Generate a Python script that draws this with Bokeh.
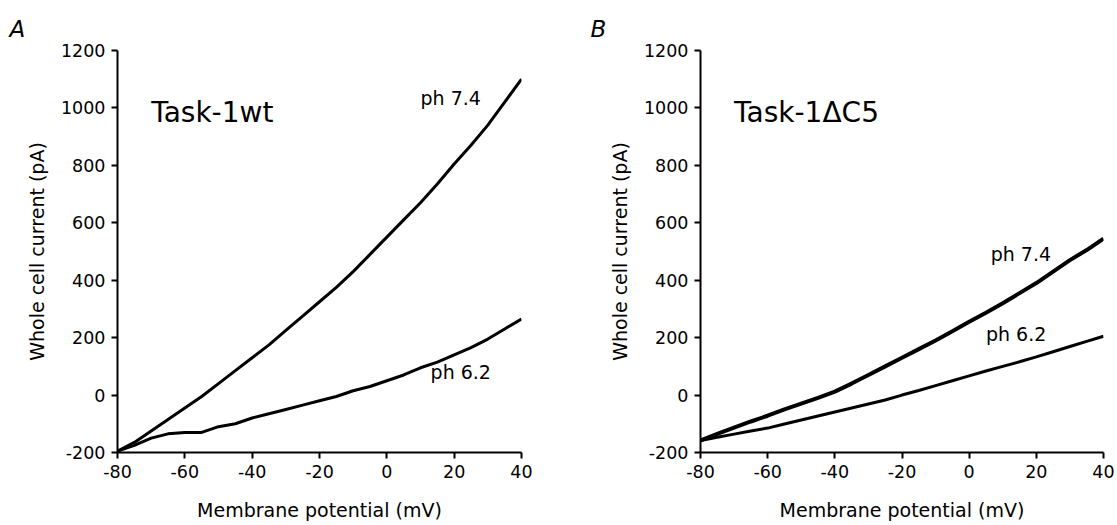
from bokeh.plotting import figure
from bokeh.layouts import row
from bokeh.models import Range1d, Label, FixedTicker
from bokeh.embed import file_html
from bokeh.resources import INLINE

# ---- data ----
voltage = [-80, -75, -70, -65, -60, -55, -50, -45, -40, -35, -30, -25, -20,
           -15, -10, -5, 0, 5, 10, 15, 20, 25, 30, 35, 40]

wt_ph74 = [-195, -165, -125, -85, -45, -5, 40, 85, 130, 175, 225, 275, 325,
           375, 430, 490, 550, 610, 670, 735, 805, 870, 940, 1020, 1100]
wt_ph62 = [-195, -175, -150, -135, -130, -130, -110, -100, -80, -65, -50, -35, -20,
           -5, 15, 30, 50, 70, 95, 115, 140, 165, 195, 230, 265]

dc5_ph74 = [-158, -135, -113, -92, -72, -50, -30, -10, 12, 40, 70, 100, 130,
            160, 190, 222, 255, 287, 320, 355, 390, 430, 470, 505, 545]
dc5_ph62 = [-158, -147, -136, -125, -115, -101, -87, -73, -59, -45, -31, -17, 0,
            16, 33, 50, 67, 84, 100, 116, 133, 151, 169, 187, 205]

x_ticks = [-80, -60, -40, -20, 0, 20, 40]
y_ticks = [-200, 0, 200, 400, 600, 800, 1000, 1200]

panel_letters = ["A", "B"]
panel_titles = ["Task-1wt", "Task-1\u0394C5"]
x_label = "Membrane potential (mV)"
y_label = "Whole cell current (pA)"

FONT = "DejaVu Sans"


def tick_text(v):
    return str(v)  # plain hyphen-minus, as in the reference


def make_panel(width, border_left, border_right, letter, letter_offset, title,
               y74, y62, lab74, lab62, lw74):
    p = figure(width=width, height=525, output_backend="svg",
               toolbar_location=None,
               x_range=Range1d(-80, 40), y_range=Range1d(-200, 1200),
               min_border_left=border_left, min_border_right=border_right,
               min_border_top=50, min_border_bottom=73)
    p.outline_line_color = None
    p.grid.visible = False
    p.background_fill_color = "white"
    p.border_fill_color = "white"

    # panel letter as the figure title, pushed to the far left
    p.title.text = letter
    p.title.align = "left"
    p.title.offset = letter_offset
    p.title.text_font = FONT
    p.title.text_font_size = "23px"
    p.title.text_font_style = "italic"
    p.title.text_color = "black"
    p.title.standoff = 17

    for ax, ticks, lab in ((p.xaxis[0], x_ticks, x_label),
                           (p.yaxis[0], y_ticks, y_label)):
        ax.ticker = FixedTicker(ticks=ticks)
        ax.major_label_overrides = {t: tick_text(t) for t in ticks}
        ax.axis_line_width = 2
        ax.axis_line_color = "black"
        ax.major_tick_line_width = 2
        ax.major_tick_line_color = "black"
        ax.major_tick_out = 6
        ax.major_tick_in = 0
        ax.minor_tick_line_color = None
        ax.major_label_text_font = FONT
        ax.major_label_text_font_size = "17.5px"
        ax.major_label_text_color = "black"
        ax.major_label_standoff = 6
        ax.axis_label = lab
        ax.axis_label_text_font = FONT
        ax.axis_label_text_font_size = "19px"
        ax.axis_label_text_font_style = "normal"
        ax.axis_label_text_color = "black"
    p.xaxis[0].axis_label_standoff = 18
    p.yaxis[0].axis_label_standoff = 10

    p.line(voltage, y74, line_color="black", line_width=lw74)
    p.line(voltage, y62, line_color="black", line_width=3)

    p.add_layout(Label(x=-70, y=985, text=title, text_font=FONT,
                       text_font_size="28px", text_color="black",
                       text_baseline="alphabetic"))
    p.add_layout(Label(x=lab74[0], y=lab74[1], text="ph 7.4", text_font=FONT,
                       text_font_size="19px", text_color="black",
                       text_baseline="alphabetic"))
    p.add_layout(Label(x=lab62[0], y=lab62[1], text="ph 6.2", text_font=FONT,
                       text_font_size="19px", text_color="black",
                       text_baseline="alphabetic"))
    return p


left = make_panel(553, 117, 32, panel_letters[0], -108, panel_titles[0],
                  wt_ph74, wt_ph62, (10, 1033), (13, 80), 3)
right = make_panel(564, 147, 14, panel_letters[1], -110, panel_titles[1],
                   dc5_ph74, dc5_ph62, (6.4, 493), (5, 211), 4)

layout = row(left, right)
open("out.html", "w").write(file_html(layout, INLINE))
